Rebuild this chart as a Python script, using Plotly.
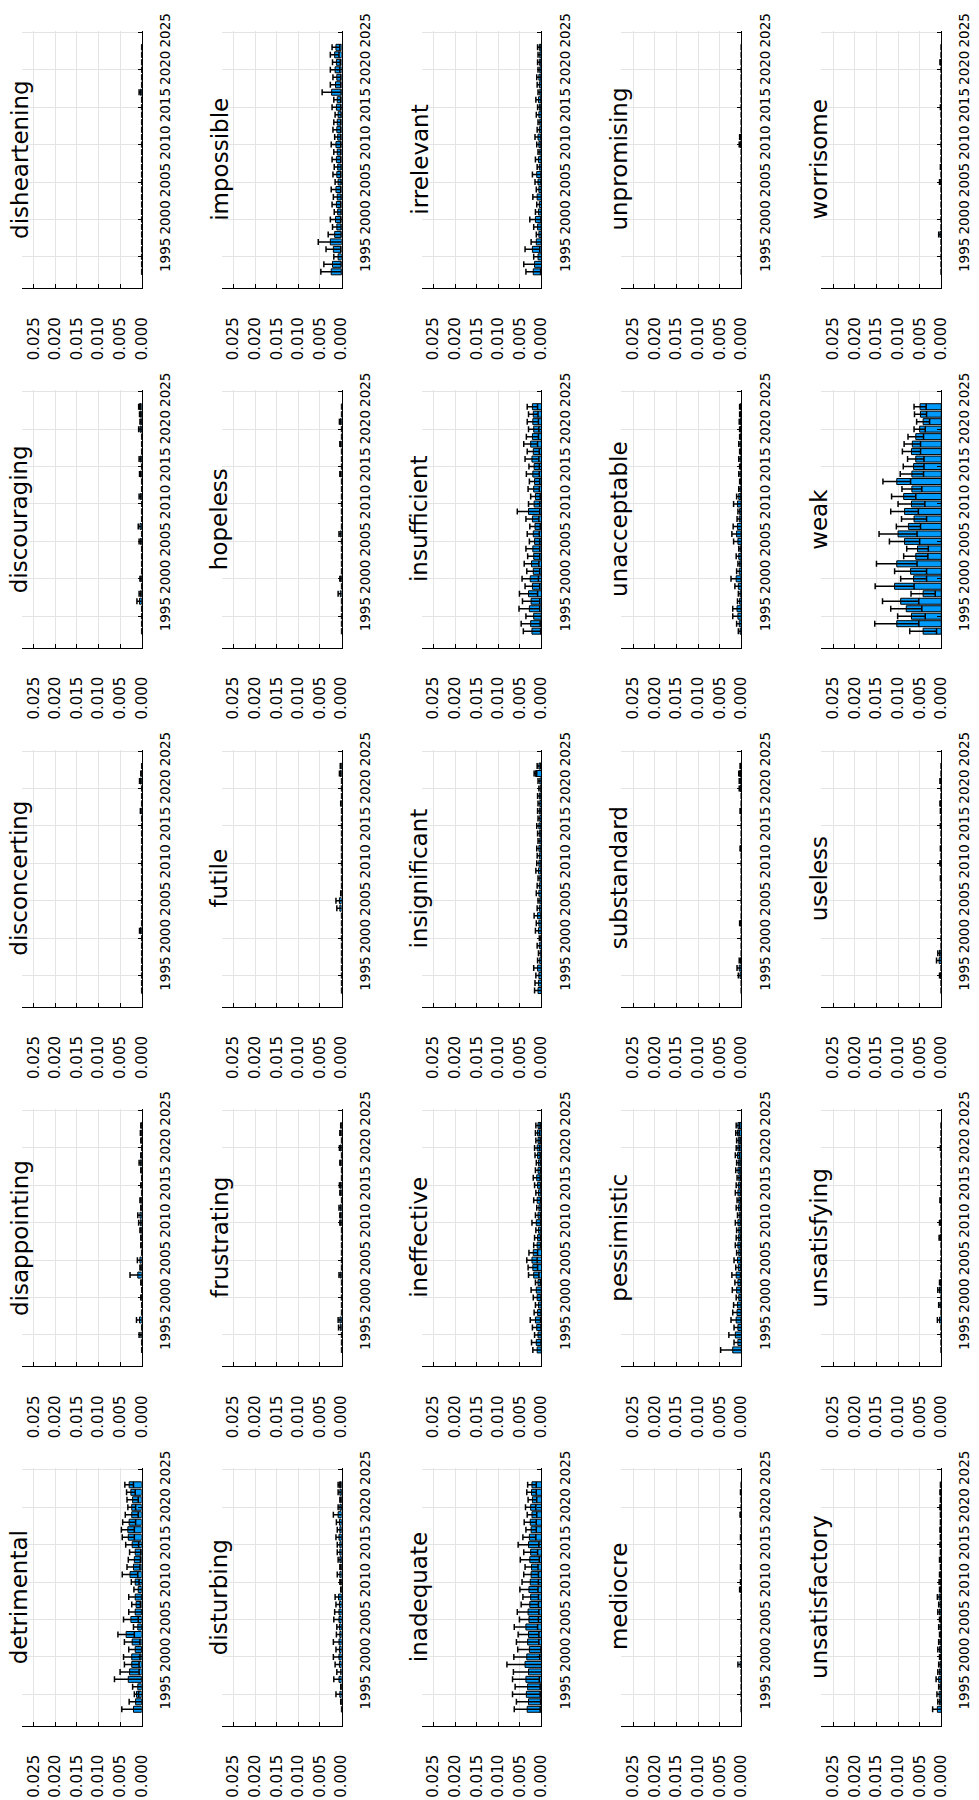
import plotly.graph_objects as go

# ---------------------------------------------------------------------------
# Yearly relative frequency (mean ± error) of negative descriptors, 1993-2023
# ---------------------------------------------------------------------------
years = list(range(1993, 2024))

words = [
    "detrimental", "disappointing", "disconcerting", "discouraging", "disheartening",
    "disturbing", "frustrating", "futile", "hopeless", "impossible",
    "inadequate", "ineffective", "insignificant", "insufficient", "irrelevant",
    "mediocre", "pessimistic", "substandard", "unacceptable", "unpromising",
    "unsatisfactory", "unsatisfying", "useless", "weak", "worrisome",
]

detrimental_mean = [0.0019, 0.0014, 0.0012, 0.0009, 0.0031, 0.0028, 0.0023, 0.0023, 0.0015, 0.0022, 0.0036,
                    0.0009, 0.0025, 0.0015, 0.0013, 0.0015, 0.0008, 0.0015, 0.0027, 0.0019, 0.0017,
                    0.0015, 0.0022, 0.0031, 0.0032, 0.0029, 0.0023, 0.0023, 0.0021, 0.0025, 0.0029]
detrimental_err = [0.0027, 0.0015, 0.0005, 0.0012, 0.0032, 0.0022, 0.0017, 0.0019, 0.0015, 0.0018, 0.0019,
                   0.0010, 0.0017, 0.0015, 0.0010, 0.0015, 0.0010, 0.0009, 0.0018, 0.0015, 0.0014,
                   0.0013, 0.0015, 0.0014, 0.0015, 0.0015, 0.0015, 0.0009, 0.0013, 0.0010, 0.0010]

disappointing_mean = [0, 0, 0.0002, 0, 0.0005, 0, 0, 0.0001, 0, 0.0001, 0.0009, 0.0002, 0.0004, 0, 0.0001, 0.0001,
                      0.0002, 0.0003, 0.0004, 0.0001, 0.0002, 0, 0.0001, 0, 0.0001, 0.0003, 0.0001, 0, 0.0001,
                      0.0002, 0.0001]
disappointing_err = [0, 0, 0.0004, 0, 0.0007, 0, 0, 0.0001, 0, 0.0001, 0.0018, 0.0002, 0.0006, 0, 0.0001, 0.0001,
                     0.0002, 0.0004, 0.0005, 0.0001, 0.0002, 0, 0.0001, 0, 0.0001, 0.0003, 0.0001, 0, 0.0001,
                     0.0001, 0.0001]

disconcerting_mean = [0, 0, 0, 0, 0, 0, 0, 0, 0.0003, 0, 0, 0, 0, 0, 0, 0, 0, 0, 0, 0, 0, 0, 0, 0, 0.0002, 0, 0, 0,
                      0.0003, 0.0001, 0]
disconcerting_err = [0, 0, 0, 0, 0, 0, 0, 0, 0.0002, 0, 0, 0, 0, 0, 0, 0, 0, 0, 0, 0, 0, 0, 0, 0, 0.0001, 0, 0, 0,
                     0.0002, 0.0001, 0]

discouraging_mean = [0, 0, 0, 0, 0.0005, 0.0003, 0, 0.0002, 0, 0, 0, 0, 0.0003, 0, 0.0004, 0, 0, 0, 0.0003, 0, 0,
                     0.0003, 0, 0.0003, 0, 0, 0, 0.0004, 0.0002, 0.0003, 0.0005]
discouraging_err = [0, 0, 0, 0, 0.0006, 0.0003, 0, 0.0002, 0, 0, 0, 0, 0.0003, 0, 0.0004, 0, 0, 0, 0.0003, 0, 0,
                    0.0002, 0, 0.0003, 0, 0, 0, 0.0003, 0.0002, 0.0002, 0.0002]

disheartening_mean = [0, 0, 0, 0, 0, 0, 0, 0, 0, 0, 0, 0, 0, 0, 0, 0, 0, 0, 0, 0, 0, 0, 0, 0, 0.0003, 0, 0, 0, 0, 0, 0]
disheartening_err = [0, 0, 0, 0, 0, 0, 0, 0, 0, 0, 0, 0, 0, 0, 0, 0, 0, 0, 0, 0, 0, 0, 0, 0, 0.0003, 0, 0, 0, 0, 0, 0]

disturbing_mean = [0, 0.0001, 0.0004, 0.0001, 0.0006, 0.0002, 0.0005, 0.0006, 0.0005, 0.0006, 0.0004, 0.0005,
                   0.0006, 0.0006, 0.0005, 0.0007, 0.0001, 0.0002, 0.0004, 0.0002, 0.0004, 0.0004, 0.0004,
                   0.0006, 0.0004, 0.0005, 0.0008, 0.0004, 0.0002, 0.0004, 0.0005]
disturbing_err = [0, 0.0001, 0.0009, 0.0001, 0.0012, 0.0009, 0.0010, 0.0013, 0.0008, 0.0013, 0.0008, 0.0006,
                  0.0012, 0.0010, 0.0008, 0.0008, 0.0001, 0.0002, 0.0006, 0.0002, 0.0004, 0.0006, 0.0006,
                  0.0007, 0.0006, 0.0007, 0.0011, 0.0004, 0.0002, 0.0004, 0.0003]

frustrating_mean = [0, 0, 0, 0.0003, 0.0004, 0, 0, 0, 0, 0, 0.0003, 0, 0, 0, 0, 0, 0, 0.0002, 0.0002, 0.0003, 0,
                    0.0002, 0.0003, 0, 0, 0.0002, 0, 0.0003, 0, 0.0002, 0.0001]
frustrating_err = [0, 0, 0, 0.0004, 0.0004, 0, 0, 0, 0, 0, 0.0003, 0, 0, 0, 0, 0, 0, 0.0002, 0.0002, 0.0003, 0,
                   0.0002, 0.0002, 0, 0, 0.0002, 0, 0.0002, 0, 0.0002, 0.0001]

futile_mean = [0, 0, 0, 0, 0, 0, 0, 0, 0, 0, 0, 0.0004, 0.0005, 0.0001, 0, 0, 0, 0, 0, 0, 0, 0, 0, 0, 0, 0.0001, 0,
               0, 0, 0.0003, 0.0002]
futile_err = [0, 0, 0, 0, 0, 0, 0, 0, 0, 0, 0, 0.0007, 0.0008, 0.0001, 0, 0, 0, 0, 0, 0, 0, 0, 0, 0, 0, 0.0001, 0,
              0, 0, 0.0002, 0.0001]

hopeless_mean = [0, 0, 0, 0, 0, 0.0003, 0, 0.0002, 0, 0, 0, 0, 0, 0.0003, 0, 0, 0, 0, 0, 0, 0, 0.0002, 0, 0, 0,
                 0.0002, 0, 0, 0.0003, 0, 0]
hopeless_err = [0, 0, 0, 0, 0, 0.0005, 0, 0.0002, 0, 0, 0, 0, 0, 0.0003, 0, 0, 0, 0, 0, 0, 0, 0.0002, 0, 0, 0,
                0.0002, 0, 0, 0.0002, 0, 0]

impossible_mean = [0.0024, 0.0021, 0.0008, 0.0019, 0.0026, 0.0016, 0.0011, 0.0014, 0.0009, 0.0012, 0.0010,
                   0.0013, 0.0008, 0.0011, 0.0009, 0.0012, 0.0010, 0.0013, 0.0009, 0.0011, 0.0010, 0.0008,
                   0.0012, 0.0010, 0.0023, 0.0014, 0.0011, 0.0015, 0.0012, 0.0016, 0.0013]
impossible_err = [0.0024, 0.0020, 0.0010, 0.0017, 0.0028, 0.0015, 0.0010, 0.0012, 0.0008, 0.0010, 0.0009,
                  0.0011, 0.0007, 0.0009, 0.0008, 0.0010, 0.0008, 0.0011, 0.0007, 0.0009, 0.0008, 0.0007,
                  0.0010, 0.0008, 0.0022, 0.0012, 0.0009, 0.0011, 0.0009, 0.0010, 0.0009]

inadequate_mean = [0.0033, 0.0030, 0.0035, 0.0032, 0.0036, 0.0030, 0.0038, 0.0034, 0.0028, 0.0032, 0.0030,
                   0.0036, 0.0029, 0.0031, 0.0027, 0.0025, 0.0029, 0.0026, 0.0024, 0.0023, 0.0027, 0.0025,
                   0.0030, 0.0028, 0.0024, 0.0026, 0.0022, 0.0025, 0.0021, 0.0023, 0.0022]
inadequate_err = [0.0030, 0.0028, 0.0032, 0.0029, 0.0031, 0.0035, 0.0042, 0.0030, 0.0027, 0.0026, 0.0024,
                  0.0027, 0.0022, 0.0025, 0.0020, 0.0018, 0.0021, 0.0019, 0.0017, 0.0015, 0.0022, 0.0016,
                  0.0024, 0.0015, 0.0012, 0.0014, 0.0011, 0.0012, 0.0010, 0.0011, 0.0010]

ineffective_mean = [0.0010, 0.0012, 0.0008, 0.0011, 0.0014, 0.0009, 0.0007, 0.0010, 0.0012, 0.0008, 0.0018,
                    0.0020, 0.0022, 0.0019, 0.0010, 0.0009, 0.0007, 0.0012, 0.0008, 0.0006, 0.0010, 0.0007,
                    0.0009, 0.0011, 0.0008, 0.0007, 0.0009, 0.0010, 0.0008, 0.0009, 0.0008]
ineffective_err = [0.0010, 0.0011, 0.0008, 0.0010, 0.0012, 0.0008, 0.0007, 0.0009, 0.0012, 0.0006, 0.0012,
                   0.0011, 0.0012, 0.0010, 0.0008, 0.0007, 0.0006, 0.0010, 0.0006, 0.0005, 0.0008, 0.0006,
                   0.0007, 0.0008, 0.0006, 0.0005, 0.0006, 0.0006, 0.0005, 0.0005, 0.0005]

insignificant_mean = [0.0008, 0.0007, 0.0006, 0.0009, 0.0004, 0.0003, 0.0005, 0.0002, 0.0007, 0.0006, 0.0009,
                      0.0005, 0.0004, 0.0006, 0.0005, 0.0004, 0.0007, 0.0006, 0.0005, 0.0006, 0.0004, 0.0005,
                      0.0006, 0.0004, 0.0005, 0.0004, 0.0005, 0.0003, 0.0004, 0.0014, 0.0006]
insignificant_err = [0.0008, 0.0008, 0.0007, 0.0009, 0.0005, 0.0004, 0.0005, 0.0003, 0.0007, 0.0006, 0.0008,
                     0.0005, 0.0004, 0.0006, 0.0005, 0.0004, 0.0006, 0.0005, 0.0005, 0.0005, 0.0004, 0.0004,
                     0.0005, 0.0004, 0.0004, 0.0004, 0.0004, 0.0003, 0.0004, 0.0003, 0.0004]

insufficient_mean = [0.0022, 0.0025, 0.0018, 0.0028, 0.0024, 0.0030, 0.0021, 0.0026, 0.0019, 0.0023, 0.0018,
                     0.0020, 0.0016, 0.0019, 0.0015, 0.0021, 0.0030, 0.0017, 0.0014, 0.0018, 0.0016, 0.0020,
                     0.0017, 0.0022, 0.0019, 0.0025, 0.0021, 0.0018, 0.0020, 0.0019, 0.0021]
insufficient_err = [0.0020, 0.0022, 0.0018, 0.0024, 0.0020, 0.0021, 0.0017, 0.0019, 0.0015, 0.0017, 0.0014,
                    0.0016, 0.0012, 0.0014, 0.0012, 0.0015, 0.0026, 0.0013, 0.0011, 0.0013, 0.0012, 0.0015,
                    0.0012, 0.0016, 0.0014, 0.0016, 0.0014, 0.0012, 0.0013, 0.0011, 0.0012]

irrelevant_mean = [0.0019, 0.0016, 0.0008, 0.0021, 0.0012, 0.0006, 0.0009, 0.0014, 0.0007, 0.0005, 0.0010,
                   0.0006, 0.0008, 0.0011, 0.0005, 0.0007, 0.0004, 0.0006, 0.0008, 0.0005, 0.0004, 0.0006,
                   0.0005, 0.0007, 0.0004, 0.0005, 0.0006, 0.0004, 0.0005, 0.0004, 0.0005]
irrelevant_err = [0.0017, 0.0025, 0.0010, 0.0017, 0.0012, 0.0006, 0.0009, 0.0013, 0.0007, 0.0006, 0.0010,
                  0.0006, 0.0007, 0.0010, 0.0005, 0.0007, 0.0004, 0.0005, 0.0007, 0.0005, 0.0004, 0.0006,
                  0.0004, 0.0006, 0.0004, 0.0005, 0.0005, 0.0004, 0.0004, 0.0004, 0.0004]

mediocre_mean = [0, 0, 0, 0, 0, 0, 0.0003, 0, 0, 0, 0, 0, 0, 0, 0, 0, 0.0002, 0.0001, 0, 0.0001, 0, 0, 0, 0.0001,
                 0, 0, 0.0002, 0, 0, 0.0001, 0]
mediocre_err = [0, 0, 0, 0, 0, 0, 0.0005, 0, 0, 0, 0, 0, 0, 0, 0, 0, 0.0002, 0.0001, 0, 0.0001, 0, 0, 0, 0.0001,
                0, 0, 0.0001, 0, 0, 0.0001, 0]

pessimistic_mean = [0.0020, 0.0008, 0.0014, 0.0008, 0.0012, 0.0010, 0.0009, 0.0006, 0.0011, 0.0008, 0.0012,
                    0.0007, 0.0009, 0.0006, 0.0008, 0.0007, 0.0006, 0.0008, 0.0005, 0.0007, 0.0006, 0.0008,
                    0.0007, 0.0006, 0.0008, 0.0007, 0.0009, 0.0008, 0.0007, 0.0009, 0.0008]
pessimistic_err = [0.0028, 0.0009, 0.0015, 0.0009, 0.0012, 0.0010, 0.0009, 0.0006, 0.0010, 0.0007, 0.0010,
                   0.0006, 0.0008, 0.0005, 0.0006, 0.0005, 0.0005, 0.0006, 0.0004, 0.0005, 0.0004, 0.0006,
                   0.0005, 0.0004, 0.0005, 0.0004, 0.0005, 0.0004, 0.0004, 0.0004, 0.0004]

substandard_mean = [0, 0, 0.0003, 0.0005, 0.0002, 0, 0, 0, 0, 0.0002, 0, 0, 0, 0, 0, 0, 0, 0, 0, 0.0002, 0, 0, 0,
                    0, 0.0002, 0, 0, 0.0003, 0.0003, 0.0004, 0.0002]
substandard_err = [0, 0, 0.0004, 0.0005, 0.0003, 0, 0, 0, 0, 0.0002, 0, 0, 0, 0, 0, 0, 0, 0, 0, 0.0001, 0, 0, 0,
                   0, 0.0001, 0, 0, 0.0002, 0.0002, 0.0002, 0.0001]

unacceptable_mean = [0.0003, 0.0005, 0.0008, 0.0010, 0.0004, 0.0003, 0.0007, 0.0012, 0.0005, 0.0004, 0.0006,
                     0.0003, 0.0008, 0.0011, 0.0009, 0.0005, 0.0004, 0.0009, 0.0006, 0.0003, 0.0002, 0.0003,
                     0.0002, 0.0003, 0.0002, 0.0003, 0.0002, 0.0002, 0.0003, 0.0002, 0.0002]
unacceptable_err = [0.0004, 0.0006, 0.0012, 0.0010, 0.0005, 0.0004, 0.0008, 0.0012, 0.0006, 0.0004, 0.0006,
                    0.0003, 0.0010, 0.0011, 0.0010, 0.0005, 0.0004, 0.0009, 0.0005, 0.0003, 0.0002, 0.0003,
                    0.0002, 0.0003, 0.0002, 0.0003, 0.0002, 0.0002, 0.0002, 0.0002, 0.0002]

unpromising_mean = [0, 0, 0, 0, 0, 0, 0, 0, 0, 0, 0, 0, 0, 0, 0, 0, 0, 0.0003, 0.0002, 0, 0, 0, 0, 0, 0, 0, 0, 0,
                    0, 0, 0]
unpromising_err = [0, 0, 0, 0, 0, 0, 0, 0, 0, 0, 0, 0, 0, 0, 0, 0, 0, 0.0002, 0.0002, 0, 0, 0, 0, 0, 0, 0, 0, 0,
                   0, 0, 0]

unsatisfactory_mean = [0.0009, 0.0004, 0.0005, 0.0003, 0.0006, 0.0004, 0.0003, 0.0002, 0.0004, 0.0003, 0.0002,
                       0.0003, 0.0002, 0.0004, 0.0003, 0.0005, 0.0002, 0.0003, 0.0002, 0.0001, 0.0002, 0.0001,
                       0.0002, 0.0001, 0.0002, 0.0001, 0.0001, 0.0002, 0.0001, 0.0002, 0.0001]
unsatisfactory_err = [0.0011, 0.0004, 0.0005, 0.0003, 0.0006, 0.0004, 0.0003, 0.0002, 0.0004, 0.0003, 0.0002,
                      0.0003, 0.0002, 0.0004, 0.0003, 0.0004, 0.0002, 0.0002, 0.0002, 0.0001, 0.0002, 0.0001,
                      0.0001, 0.0001, 0.0001, 0.0001, 0.0001, 0.0001, 0.0001, 0.0001, 0.0001]

unsatisfying_mean = [0, 0, 0, 0, 0.0004, 0, 0.0003, 0, 0.0004, 0.0002, 0, 0, 0, 0, 0, 0.0003, 0, 0.0002, 0, 0,
                     0.0002, 0, 0, 0, 0, 0, 0, 0.0001, 0, 0, 0]
unsatisfying_err = [0, 0, 0, 0, 0.0005, 0, 0.0003, 0, 0.0004, 0.0002, 0, 0, 0, 0, 0, 0.0002, 0, 0.0002, 0, 0,
                    0.0001, 0, 0, 0, 0, 0, 0, 0.0001, 0, 0, 0]

useless_mean = [0, 0, 0.0002, 0, 0.0005, 0.0004, 0, 0, 0, 0, 0, 0, 0, 0, 0, 0.0001, 0, 0.0002, 0, 0.0001, 0, 0,
                0.0001, 0, 0.0001, 0.0002, 0, 0, 0.0002, 0, 0]
useless_err = [0, 0, 0.0002, 0, 0.0006, 0.0004, 0, 0, 0, 0, 0, 0, 0, 0, 0, 0.0001, 0, 0.0001, 0, 0.0001, 0, 0,
               0.0001, 0, 0.0001, 0.0001, 0, 0, 0.0001, 0, 0]

weak_mean = [0.0042, 0.0103, 0.0069, 0.0081, 0.0094, 0.0042, 0.0108, 0.0064, 0.0071, 0.0103, 0.0059, 0.0055,
             0.0085, 0.0100, 0.0076, 0.0063, 0.0085, 0.0069, 0.0087, 0.0068, 0.0103, 0.0068, 0.0064, 0.0059,
             0.0069, 0.0067, 0.0059, 0.0050, 0.0042, 0.0048, 0.0049]
weak_err = [0.0031, 0.0051, 0.0032, 0.0036, 0.0042, 0.0028, 0.0045, 0.0030, 0.0037, 0.0047, 0.0028, 0.0025,
            0.0035, 0.0044, 0.0028, 0.0029, 0.0032, 0.0031, 0.0028, 0.0023, 0.0032, 0.0027, 0.0024, 0.0019,
            0.0021, 0.0019, 0.0018, 0.0013, 0.0015, 0.0014, 0.0014]

worrisome_mean = [0, 0, 0, 0, 0, 0.0003, 0, 0, 0, 0, 0, 0, 0.0002, 0, 0.0001, 0, 0, 0, 0, 0, 0, 0, 0.0001, 0, 0, 0,
                  0, 0, 0.0002, 0, 0]
worrisome_err = [0, 0, 0, 0, 0, 0.0003, 0, 0, 0, 0, 0, 0, 0.0002, 0, 0.0001, 0, 0, 0, 0, 0, 0, 0, 0.0001, 0, 0, 0,
                 0, 0, 0.0001, 0, 0]

series = {
    "detrimental": (detrimental_mean, detrimental_err),
    "disappointing": (disappointing_mean, disappointing_err),
    "disconcerting": (disconcerting_mean, disconcerting_err),
    "discouraging": (discouraging_mean, discouraging_err),
    "disheartening": (disheartening_mean, disheartening_err),
    "disturbing": (disturbing_mean, disturbing_err),
    "frustrating": (frustrating_mean, frustrating_err),
    "futile": (futile_mean, futile_err),
    "hopeless": (hopeless_mean, hopeless_err),
    "impossible": (impossible_mean, impossible_err),
    "inadequate": (inadequate_mean, inadequate_err),
    "ineffective": (ineffective_mean, ineffective_err),
    "insignificant": (insignificant_mean, insignificant_err),
    "insufficient": (insufficient_mean, insufficient_err),
    "irrelevant": (irrelevant_mean, irrelevant_err),
    "mediocre": (mediocre_mean, mediocre_err),
    "pessimistic": (pessimistic_mean, pessimistic_err),
    "substandard": (substandard_mean, substandard_err),
    "unacceptable": (unacceptable_mean, unacceptable_err),
    "unpromising": (unpromising_mean, unpromising_err),
    "unsatisfactory": (unsatisfactory_mean, unsatisfactory_err),
    "unsatisfying": (unsatisfying_mean, unsatisfying_err),
    "useless": (useless_mean, useless_err),
    "weak": (weak_mean, weak_err),
    "worrisome": (worrisome_mean, worrisome_err),
}

value_ticks = [0.0, 0.005, 0.010, 0.015, 0.020, 0.025]
value_tick_labels = ["0.000", "0.005", "0.010", "0.015", "0.020", "0.025"]
year_ticks = [1995, 2000, 2005, 2010, 2015, 2020, 2025]

# ---------------------------------------------------------------------------
# Figure: a 5x5 grid laid out sideways (value axis horizontal, reversed)
# ---------------------------------------------------------------------------
W, H = 979, 1800
FONT = "DejaVu Sans"
BAR_BLUE = "#009AFA"
GRID = "#E4E4E4"

COL_PITCH = 201.75
ROW_PITCH = 363
PANEL_H = 260

fig = go.Figure()
layout_axes = {}
annotations = []

for i, word in enumerate(words):
    grid_row, grid_col = divmod(i, 5)
    left = 22 + COL_PITCH * grid_row
    right = 143 + COL_PITCH * grid_row
    top = 13 + ROW_PITCH * (4 - grid_col)
    bottom = top + PANEL_H

    k = i + 1
    xref = "x" if k == 1 else f"x{k}"
    yref = "y" if k == 1 else f"y{k}"
    mean, err = series[word]

    fig.add_trace(go.Bar(
        x=mean, y=years, orientation="h",
        xaxis=xref, yaxis=yref,
        width=0.8,
        marker=dict(color=BAR_BLUE, line=dict(color="black", width=1)),
        error_x=dict(type="data", array=err, symmetric=True,
                     color="black", thickness=1.5, width=3),
        showlegend=False, hoverinfo="skip",
    ))

    layout_axes["xaxis" if k == 1 else f"xaxis{k}"] = dict(
        domain=[left / W, right / W], anchor=yref,
        range=[0.02775, 0], tickvals=value_ticks, ticktext=value_tick_labels,
        tickangle=-90, side="bottom",
        showline=True, linecolor="black", linewidth=1,
        ticks="inside", ticklen=4, tickcolor="black", tickwidth=1,
        showgrid=True, gridcolor=GRID, gridwidth=1, zeroline=False,
        tickfont=dict(family=FONT, size=15, color="black"),
        ticklabelstandoff=22, fixedrange=True,
    )
    layout_axes["yaxis" if k == 1 else f"yaxis{k}"] = dict(
        domain=[1 - bottom / H, 1 - top / H], anchor=xref,
        range=[1990.8, 2025.2], tickvals=year_ticks,
        tickangle=-90, side="right",
        showline=True, linecolor="black", linewidth=1,
        ticks="inside", ticklen=4, tickcolor="black", tickwidth=1,
        showgrid=True, gridcolor=GRID, gridwidth=1, zeroline=False,
        tickfont=dict(family=FONT, size=13.5, color="black"),
        ticklabelstandoff=11, fixedrange=True,
    )

    annotations.append(dict(
        text=word, xref="paper", yref="paper",
        x=(19.5 + COL_PITCH * grid_row) / W,
        y=1 - (top + PANEL_H / 2) / H,
        xanchor="center", yanchor="middle", textangle=-90,
        showarrow=False, font=dict(family=FONT, size=23, color="black"),
    ))

fig.update_layout(
    width=W, height=H,
    margin=dict(l=0, r=0, t=0, b=0),
    paper_bgcolor="white", plot_bgcolor="white",
    barmode="overlay",
    annotations=annotations,
    font=dict(family=FONT, color="black"),
    **layout_axes,
)

fig.write_html("out.html")
